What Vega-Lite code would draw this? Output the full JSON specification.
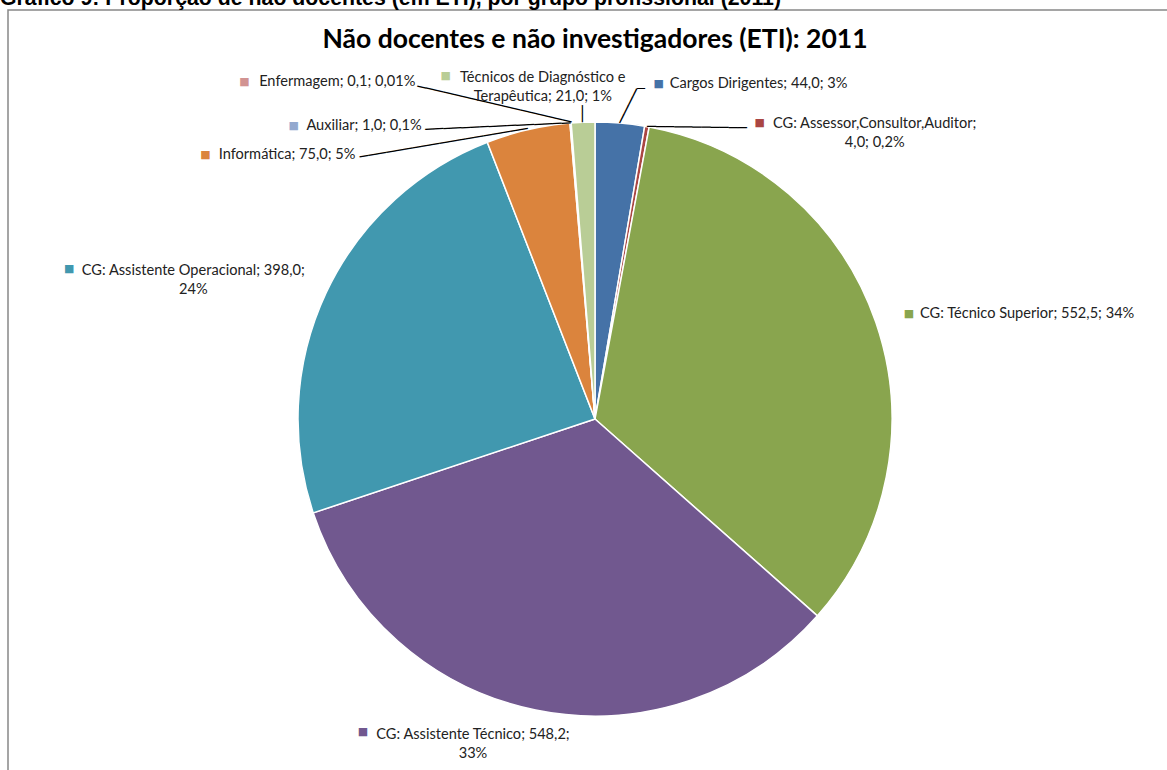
{
  "$schema": "https://vega.github.io/schema/vega-lite/v6.json",
  "autosize": {"type": "none"},
  "padding": {"left": 8, "top": 10, "right": 0, "bottom": 0},
  "background": "white",
  "title": {"text": "Gráfico 9: Proporção de não docentes (em ETI), por grupo profissional (2011)", "anchor": "start", "frame": "group", "font": "Liberation Sans", "fontSize": 21.3, "fontWeight": "bold", "color": "#000000", "offset": -17, "dx": -8, "baseline": "alphabetic"},
  "width": 1174,
  "height": 818,
  "data": {"values": [
    {"order": 1, "name": "Cargos Dirigentes", "value": 44.0, "label": "Cargos Dirigentes; 44,0; 3%"},
    {"order": 2, "name": "CG: Assessor,Consultor,Auditor", "value": 4.0, "label": "CG: Assessor,Consultor,Auditor;\n4,0; 0,2%"},
    {"order": 3, "name": "CG: Técnico Superior", "value": 552.5, "label": "CG: Técnico Superior; 552,5; 34%"},
    {"order": 4, "name": "CG: Assistente Técnico", "value": 548.2, "label": "CG: Assistente Técnico; 548,2;\n33%"},
    {"order": 5, "name": "CG: Assistente Operacional", "value": 398.0, "label": "CG: Assistente Operacional; 398,0;\n24%"},
    {"order": 6, "name": "Informática", "value": 75.0, "label": "Informática; 75,0; 5%"},
    {"order": 7, "name": "Auxiliar", "value": 1.0, "label": "Auxiliar; 1,0; 0,1%"},
    {"order": 8, "name": "Enfermagem", "value": 0.1, "label": "Enfermagem; 0,1; 0,01%"},
    {"order": 9, "name": "Técnicos de Diagnóstico e Terapêutica", "value": 21.0, "label": "Técnicos de Diagnóstico e\nTerapêutica; 21,0; 1%"}
  ]},
  "transform": [
    {"stack": "value", "groupby": [], "sort": [{"field": "order", "order": "ascending"}], "as": ["v0", "v1"]},
    {"calculate": "(datum.v0 + datum.v1) / 2", "as": "mid"}
  ],
  "layer": [
    {
      "data": {"values": [{"box": "frame"}]},
      "mark": {"type": "rect", "fill": null, "stroke": "#888888", "strokeWidth": 1.5},
      "encoding": {}
    },
    {
      "mark": {"type": "arc", "radius": 297, "stroke": "white", "strokeWidth": 1.5},
      "encoding": {
        "theta": {"field": "value", "type": "quantitative", "stack": true, "scale": {"nice": false, "zero": true}},
        "order": {"field": "order", "type": "quantitative", "sort": "ascending"},
        "color": {"field": "name", "type": "nominal", "legend": null, "scale": {
          "domain": ["Cargos Dirigentes", "CG: Assessor,Consultor,Auditor", "CG: Técnico Superior", "CG: Assistente Técnico", "CG: Assistente Operacional", "Informática", "Auxiliar", "Enfermagem", "Técnicos de Diagnóstico e Terapêutica"],
          "range": ["#4572A7", "#AA4643", "#89A54E", "#71588F", "#4198AF", "#DB843D", "#93A9CF", "#D19392", "#B9CD96"]}}
      }
    },
    {
      "data": {"values": [{"title": "Não docentes e não investigadores (ETI): 2011"}]},
      "mark": {"type": "text", "radius": 371, "align": "center", "baseline": "alphabetic", "font": "Lato", "fontSize": 26.5, "fontWeight": "bold", "color": "#000000"},
      "encoding": {"theta": {"value": 0}, "text": {"field": "title"}}
    },
    {
      "transform": [{"filter": "datum.order === 1"}],
      "layer": [
        {"mark": {"type": "text", "radius": 330, "align": "left", "baseline": "middle", "dx": 47, "dy": -6}, "encoding": {"theta": {"field": "mid", "type": "quantitative"}, "text": {"field": "label"}}},
        {"mark": {"type": "text", "text": "■", "font": "DejaVu Sans", "fontSize": 11, "radius": 330, "align": "center", "baseline": "middle", "dx": 36, "dy": -6}, "encoding": {"theta": {"field": "mid", "type": "quantitative"}, "color": {"field": "name", "type": "nominal", "legend": null}}},
        {"mark": {"type": "text", "text": "────", "font": "DejaVu Sans", "fontSize": 15.8, "radius": 297, "align": "left", "baseline": "middle", "angle": 296.7, "color": "#000000"}, "encoding": {"theta": {"field": "mid", "type": "quantitative"}}},
        {"mark": {"type": "text", "text": "─", "font": "DejaVu Sans", "fontSize": 13.3, "radius": 297, "align": "left", "baseline": "middle", "dx": 17, "dy": -34, "color": "#000000"}, "encoding": {"theta": {"field": "mid", "type": "quantitative"}}}
      ]
    },
    {
      "transform": [{"filter": "datum.order === 2"}],
      "layer": [
        {"mark": {"type": "text", "radius": 330, "align": "center", "baseline": "middle", "dx": 222, "dy": 30}, "encoding": {"theta": {"field": "mid", "type": "quantitative"}, "text": {"field": "label"}}},
        {"mark": {"type": "text", "text": "■", "font": "DejaVu Sans", "fontSize": 11, "radius": 330, "align": "center", "baseline": "middle", "dx": 107, "dy": 29}, "encoding": {"theta": {"field": "mid", "type": "quantitative"}, "color": {"field": "name", "type": "nominal", "legend": null}}},
        {"mark": {"type": "text", "text": "───────────", "font": "DejaVu Sans", "fontSize": 15.1, "radius": 297, "align": "left", "baseline": "middle", "angle": 0.8, "color": "#000000"}, "encoding": {"theta": {"field": "mid", "type": "quantitative"}}}
      ]
    },
    {
      "transform": [{"filter": "datum.order === 3"}],
      "layer": [
        {"mark": {"type": "text", "radius": 330, "align": "left", "baseline": "middle", "dx": 13, "dy": 2}, "encoding": {"theta": {"field": "mid", "type": "quantitative"}, "text": {"field": "label"}}},
        {"mark": {"type": "text", "text": "■", "font": "DejaVu Sans", "fontSize": 11, "radius": 330, "align": "center", "baseline": "middle", "dx": 2, "dy": 2}, "encoding": {"theta": {"field": "mid", "type": "quantitative"}, "color": {"field": "name", "type": "nominal", "legend": null}}}
      ]
    },
    {
      "transform": [{"filter": "datum.order === 4"}],
      "layer": [
        {"mark": {"type": "text", "radius": 330, "align": "center", "baseline": "middle", "dx": -56, "dy": -7}, "encoding": {"theta": {"field": "mid", "type": "quantitative"}, "text": {"field": "label"}}},
        {"mark": {"type": "text", "text": "■", "font": "DejaVu Sans", "fontSize": 11, "radius": 330, "align": "center", "baseline": "middle", "dx": -166, "dy": -10}, "encoding": {"theta": {"field": "mid", "type": "quantitative"}, "color": {"field": "name", "type": "nominal", "legend": null}}}
      ]
    },
    {
      "transform": [{"filter": "datum.order === 5"}],
      "layer": [
        {"mark": {"type": "text", "radius": 330, "align": "center", "baseline": "middle", "dx": -103, "dy": -8}, "encoding": {"theta": {"field": "mid", "type": "quantitative"}, "text": {"field": "label"}}},
        {"mark": {"type": "text", "text": "■", "font": "DejaVu Sans", "fontSize": 11, "radius": 330, "align": "center", "baseline": "middle", "dx": -227, "dy": -10}, "encoding": {"theta": {"field": "mid", "type": "quantitative"}, "color": {"field": "name", "type": "nominal", "legend": null}}}
      ]
    },
    {
      "transform": [{"filter": "datum.order === 6"}],
      "layer": [
        {"mark": {"type": "text", "radius": 330, "align": "right", "baseline": "middle", "dx": -165, "dy": 57}, "encoding": {"theta": {"field": "mid", "type": "quantitative"}, "text": {"field": "label"}}},
        {"mark": {"type": "text", "text": "■", "font": "DejaVu Sans", "fontSize": 11, "radius": 330, "align": "center", "baseline": "middle", "dx": -315, "dy": 57}, "encoding": {"theta": {"field": "mid", "type": "quantitative"}, "color": {"field": "name", "type": "nominal", "legend": null}}},
        {"mark": {"type": "text", "text": "───────────────────", "font": "DejaVu Sans", "fontSize": 14.9, "radius": 297, "align": "right", "baseline": "middle", "angle": 350.43, "color": "#000000"}, "encoding": {"theta": {"field": "mid", "type": "quantitative"}}}
      ]
    },
    {
      "transform": [{"filter": "datum.order === 7"}],
      "layer": [
        {"mark": {"type": "text", "radius": 330, "align": "right", "baseline": "middle", "dx": -146, "dy": 36}, "encoding": {"theta": {"field": "mid", "type": "quantitative"}, "text": {"field": "label"}}},
        {"mark": {"type": "text", "text": "■", "font": "DejaVu Sans", "fontSize": 11, "radius": 330, "align": "center", "baseline": "middle", "dx": -274, "dy": 36}, "encoding": {"theta": {"field": "mid", "type": "quantitative"}, "color": {"field": "name", "type": "nominal", "legend": null}}},
        {"mark": {"type": "text", "text": "────────────────", "font": "DejaVu Sans", "fontSize": 15.1, "radius": 297, "align": "right", "baseline": "middle", "angle": 357.44, "color": "#000000"}, "encoding": {"theta": {"field": "mid", "type": "quantitative"}}}
      ]
    },
    {
      "transform": [{"filter": "datum.order === 8"}],
      "layer": [
        {"mark": {"type": "text", "radius": 330, "align": "right", "baseline": "middle", "dx": -153, "dy": -8}, "encoding": {"theta": {"field": "mid", "type": "quantitative"}, "text": {"field": "label"}}},
        {"mark": {"type": "text", "text": "■", "font": "DejaVu Sans", "fontSize": 11, "radius": 330, "align": "center", "baseline": "middle", "dx": -324, "dy": -8}, "encoding": {"theta": {"field": "mid", "type": "quantitative"}, "color": {"field": "name", "type": "nominal", "legend": null}}},
        {"mark": {"type": "text", "text": "──────────────────", "font": "DejaVu Sans", "fontSize": 14.6, "radius": 297, "align": "right", "baseline": "middle", "angle": 13.15, "color": "#000000"}, "encoding": {"theta": {"field": "mid", "type": "quantitative"}}}
      ]
    },
    {
      "transform": [{"filter": "datum.order === 9"}],
      "layer": [
        {"mark": {"type": "text", "radius": 330, "align": "center", "baseline": "middle", "dx": -39, "dy": -11}, "encoding": {"theta": {"field": "mid", "type": "quantitative"}, "text": {"field": "label"}}},
        {"mark": {"type": "text", "text": "■", "font": "DejaVu Sans", "fontSize": 11, "radius": 330, "align": "center", "baseline": "middle", "dx": -136, "dy": -13}, "encoding": {"theta": {"field": "mid", "type": "quantitative"}, "color": {"field": "name", "type": "nominal", "legend": null}}},
        {"mark": {"type": "text", "text": "──", "font": "DejaVu Sans", "fontSize": 14.1, "radius": 297, "align": "left", "baseline": "middle", "angle": 270, "color": "#000000"}, "encoding": {"theta": {"field": "mid", "type": "quantitative"}}}
      ]
    }
  ],
  "config": {
    "view": {"stroke": null},
    "text": {"font": "Lato", "fontSize": 14.6, "color": "#222222", "lineBreak": "\n", "lineHeight": 19}
  }
}
